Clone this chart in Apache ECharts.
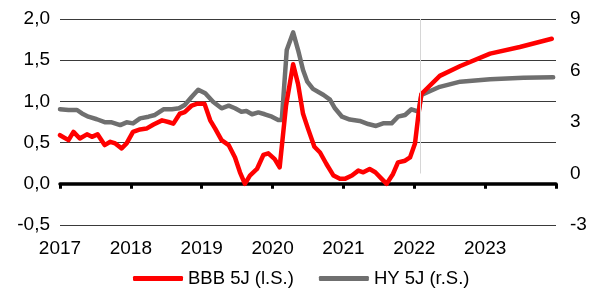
<!DOCTYPE html>
<html>
<head>
<meta charset="utf-8">
<script src="https://cdn.jsdelivr.net/npm/echarts@6/dist/echarts.min.js"></script>
<style>
html,body{margin:0;padding:0;background:#fff;}
#chart{width:590px;height:289px;}
</style>
</head>
<body>
<div id="chart"></div>
<script>
// ---- data ----
const seriesNames = ['BBB 5J (l.S.)', 'HY 5J (r.S.)'];
const xTickLabels = ['2017', '2018', '2019', '2020', '2021', '2022', '2023'];
const leftTicks = [-0.5, 0, 0.5, 1, 1.5, 2];
const rightTicks = [-3, 0, 3, 6, 9];
const forecastStart = 2022.08;

const bbbYears = [2017.00, 2017.12, 2017.19, 2017.28, 2017.38, 2017.45, 2017.53, 2017.63, 2017.71, 2017.78,
  2017.87, 2017.94, 2018.03, 2018.13, 2018.22, 2018.32, 2018.44, 2018.53, 2018.60, 2018.69,
  2018.76, 2018.86, 2018.93, 2019.04, 2019.12, 2019.19, 2019.28, 2019.38, 2019.47, 2019.54,
  2019.61, 2019.68, 2019.78, 2019.87, 2019.94, 2020.03, 2020.10, 2020.19, 2020.29, 2020.36,
  2020.43, 2020.50, 2020.59, 2020.67, 2020.76, 2020.86, 2020.95, 2021.02, 2021.12, 2021.21,
  2021.28, 2021.37, 2021.45, 2021.54, 2021.61, 2021.70, 2021.77, 2021.87, 2021.94, 2022.01,
  2022.06, 2022.10, 2022.36, 2022.65, 2023.07, 2023.49, 2023.94];
const bbbValues = [0.59, 0.53, 0.63, 0.55, 0.60, 0.57, 0.60, 0.47, 0.51, 0.49,
  0.43, 0.49, 0.63, 0.66, 0.67, 0.72, 0.77, 0.75, 0.73, 0.85,
  0.87, 0.95, 0.97, 0.97, 0.77, 0.67, 0.53, 0.47, 0.32, 0.14,
  0.00, 0.10, 0.18, 0.35, 0.37, 0.30, 0.20, 0.95, 1.45, 1.21,
  0.85, 0.67, 0.45, 0.38, 0.24, 0.10, 0.06, 0.06, 0.10, 0.16,
  0.14, 0.18, 0.14, 0.06, 0.00, 0.12, 0.26, 0.28, 0.32, 0.49,
  0.85, 1.09, 1.31, 1.43, 1.58, 1.66, 1.76];

const hyYears = [2017.00, 2017.12, 2017.24, 2017.31, 2017.40, 2017.52, 2017.64, 2017.73, 2017.85, 2017.94,
  2018.03, 2018.13, 2018.25, 2018.34, 2018.46, 2018.58, 2018.68, 2018.76, 2018.86, 2018.95,
  2019.05, 2019.16, 2019.28, 2019.38, 2019.47, 2019.56, 2019.63, 2019.71, 2019.80, 2019.89,
  2019.99, 2020.08, 2020.13, 2020.20, 2020.29, 2020.36, 2020.43, 2020.49, 2020.57, 2020.72,
  2020.81, 2020.88, 2020.98, 2021.09, 2021.23, 2021.35, 2021.46, 2021.56, 2021.68, 2021.77,
  2021.87, 2021.96, 2022.06, 2022.10, 2022.36, 2022.65, 2023.07, 2023.54, 2023.96];
const hyValues = [3.74, 3.70, 3.70, 3.50, 3.31, 3.16, 2.98, 2.98, 2.82, 2.98,
  2.92, 3.21, 3.31, 3.41, 3.74, 3.74, 3.80, 3.99, 4.47, 4.88,
  4.67, 4.18, 3.80, 3.95, 3.80, 3.60, 3.64, 3.45, 3.56, 3.45,
  3.31, 3.12, 3.12, 7.19, 8.22, 7.19, 6.03, 5.35, 4.93, 4.57,
  4.30, 3.80, 3.31, 3.14, 3.06, 2.88, 2.77, 2.92, 2.92, 3.31,
  3.41, 3.74, 3.60, 4.57, 5.05, 5.35, 5.49, 5.58, 5.60];

// ---- chart ----
const FONT = 'Liberation Sans';
const chart = echarts.init(document.getElementById('chart'), null, {renderer: 'canvas'});
const xMin = Number(xTickLabels[0]);
const xMax = xMin + xTickLabels.length;

const option = {
  animation: false,
  backgroundColor: '#ffffff',
  textStyle: {fontFamily: FONT},
  grid: {left: 60, right: 34, top: 19, bottom: 64, containLabel: false},
  legend: {
    data: seriesNames,
    left: 133,
    top: 269,
    padding: 0,
    itemGap: 25,
    itemWidth: 50,
    itemHeight: 5,
    icon: 'roundRect',
    textStyle: {fontFamily: FONT, fontSize: 18.5, color: '#000', padding: [0, 0, 0, 0]}
  },
  xAxis: [
    {
      type: 'value', min: xMin, max: xMax, interval: 1, position: 'bottom',
      axisLine: {show: false, onZero: false},
      axisTick: {show: false},
      splitLine: {show: false},
      axisLabel: {
        show: true, margin: 14, fontSize: 19, color: '#000', fontFamily: FONT,
        formatter: v => xTickLabels.includes(String(Math.round(v))) ? String(Math.round(v)) : ''
      }
    },
    {
      type: 'value', min: xMin, max: xMax, interval: 1, position: 'bottom',
      axisLine: {show: true, onZero: true, onZeroAxisIndex: 0, lineStyle: {color: '#000', width: 3.5}},
      axisTick: {show: true, length: 5, lineStyle: {color: '#000', width: 3}},
      splitLine: {show: false},
      axisLabel: {show: false}
    }
  ],
  yAxis: [
    {
      type: 'value', min: leftTicks[0], max: leftTicks[leftTicks.length - 1], interval: 0.5, position: 'left',
      axisLine: {show: false}, axisTick: {show: false},
      splitLine: {show: true, lineStyle: {color: '#3a3a3a', width: 1}},
      axisLabel: {margin: 10, fontSize: 19, color: '#000', fontFamily: FONT,
        formatter: v => v.toFixed(1).replace('.', ',')}
    },
    {
      type: 'value', min: rightTicks[0], max: rightTicks[rightTicks.length - 1], interval: 3, position: 'right',
      axisLine: {show: false}, axisTick: {show: false},
      splitLine: {show: false},
      axisLabel: {margin: 14, fontSize: 19, color: '#000', fontFamily: FONT,
        formatter: v => String(v)}
    }
  ],
  series: [
    {
      name: seriesNames[1], type: 'line', xAxisIndex: 0, yAxisIndex: 1,
      data: hyYears.map((t, i) => [t, hyValues[i]]),
      showSymbol: false, symbol: 'none', smooth: false, z: 3,
      lineStyle: {color: '#6f6f6f', width: 4.5, cap: 'round', join: 'round'},
      itemStyle: {color: '#6f6f6f'},
      markLine: {
        silent: true, symbol: 'none', label: {show: false},
        lineStyle: {color: '#d6d6d6', width: 1, type: 'solid'},
        data: [[{coord: [forecastStart, 0]}, {coord: [forecastStart, rightTicks[rightTicks.length - 1]]}]]
      }
    },
    {
      name: seriesNames[0], type: 'line', xAxisIndex: 0, yAxisIndex: 0,
      data: bbbYears.map((t, i) => [t, bbbValues[i]]),
      showSymbol: false, symbol: 'none', smooth: false, z: 4,
      lineStyle: {color: '#ff0000', width: 4.5, cap: 'round', join: 'round'},
      itemStyle: {color: '#ff0000'}
    }
  ]
};
chart.setOption(option);
</script>
</body>
</html>
